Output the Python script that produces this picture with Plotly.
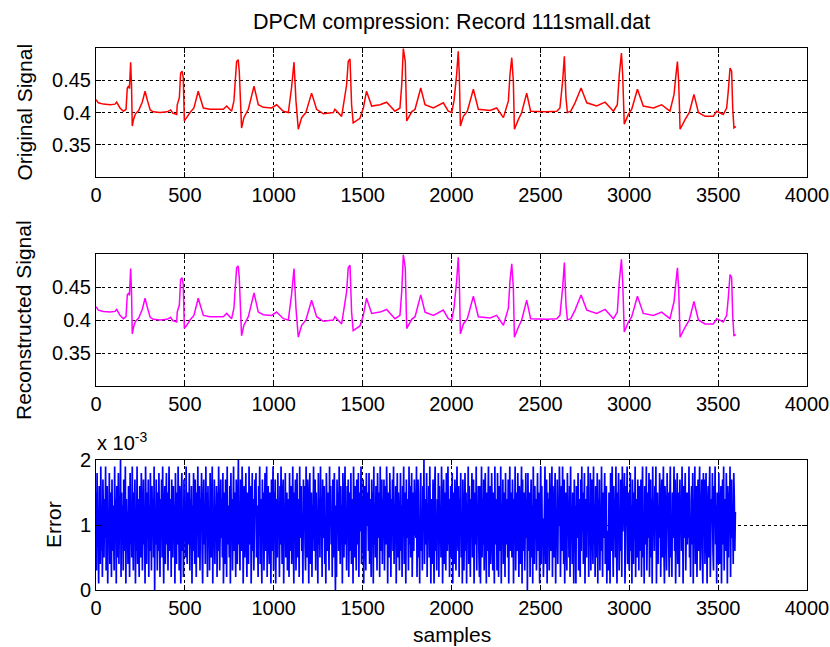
import plotly.graph_objects as go

# ECG record 111 (first 10 s): vertices of the trace, sample index and amplitude
ecg_samples = [
    0, 13, 41, 79, 107, 116, 135, 154, 169, 176, 184, 188, 195, 200, 204, 212, 222, 240,
    260, 276, 290, 305, 322, 360, 400, 420, 432, 454,
    457, 469, 476, 484, 491, 497, 510, 529, 551, 575, 604, 641, 716, 735, 763,
    776, 791, 800, 806, 819, 832, 857, 889, 913, 941, 988, 1016, 1054, 1082,
    1100, 1114, 1125, 1138, 1157, 1181, 1213, 1241, 1279, 1335, 1344, 1382,
    1410, 1419, 1429, 1438, 1447, 1485, 1504, 1522, 1551, 1598, 1635, 1682,
    1710, 1720, 1729, 1740, 1748, 1776, 1795, 1827, 1851, 1898, 1954, 1982, 2001,
    2014, 2029, 2038, 2044, 2050, 2067, 2089, 2123, 2151, 2217, 2254, 2292,
    2320, 2329, 2339, 2348, 2354, 2376, 2395, 2423, 2445, 2535, 2592,
    2610, 2625, 2635, 2644, 2652, 2671, 2695, 2729, 2761, 2817, 2864, 2911,
    2933, 2944, 2956, 2963, 2972, 2995, 3014, 3046, 3079, 3136, 3182, 3229,
    3252, 3263, 3271, 3278, 3286, 3314, 3338, 3364, 3389, 3426, 3473, 3492, 3529,
    3548, 3557, 3567, 3576, 3582, 3589, 3600,
]
ecg_values = [
    0.420, 0.415, 0.413, 0.412, 0.413, 0.416, 0.407, 0.402, 0.405, 0.438, 0.441, 0.437,
    0.478, 0.440, 0.379, 0.390, 0.398, 0.403, 0.416, 0.433, 0.418, 0.404, 0.401, 0.400,
    0.401, 0.404, 0.399, 0.397,
    0.412, 0.423, 0.461, 0.464, 0.454, 0.387, 0.392, 0.400, 0.407, 0.433, 0.407, 0.405,
    0.405, 0.410, 0.402,
    0.418, 0.479, 0.482, 0.464, 0.376, 0.392, 0.405, 0.441, 0.412, 0.408, 0.407, 0.412,
    0.402, 0.400,
    0.438, 0.478, 0.418, 0.374, 0.392, 0.400, 0.430, 0.405, 0.398, 0.400, 0.405, 0.394,
    0.443, 0.479, 0.483, 0.412, 0.384, 0.391, 0.407, 0.433, 0.410, 0.412, 0.416, 0.402,
    0.407, 0.443, 0.499, 0.479, 0.387, 0.401, 0.405, 0.438, 0.412, 0.407, 0.415, 0.402,
    0.400,
    0.418, 0.459, 0.495, 0.459, 0.379, 0.394, 0.402, 0.436, 0.405, 0.403, 0.407, 0.392,
    0.418, 0.459, 0.485, 0.448, 0.374, 0.389, 0.400, 0.430, 0.402, 0.401, 0.402,
    0.407, 0.448, 0.487, 0.423, 0.400, 0.402, 0.415, 0.438, 0.415, 0.410, 0.416, 0.402,
    0.412, 0.459, 0.492, 0.459, 0.382, 0.397, 0.405, 0.436, 0.410, 0.407, 0.412, 0.402,
    0.428, 0.459, 0.479, 0.448, 0.374, 0.389, 0.400, 0.428, 0.400, 0.394, 0.394, 0.402,
    0.397,
    0.407, 0.433, 0.469, 0.464, 0.407, 0.376, 0.378,
]
# DPCM reconstruction of the same record (deviation stays below 2e-3)
recon_values = list(ecg_values)

# Reconstruction error, in units of 1e-4, one value every err_step samples
err_step = 3
error_e4 = [
    15, 3, 18, 7, 12, 1, 16, 9, 4, 19, 6, 13, 2, 17, 10, 5, 14, 8, 19, 3, 11, 16, 1, 12, 7, 18, 4, 15, 9, 2,
    17, 6, 13, 10, 3, 19, 8, 14, 1, 16, 5, 11, 18, 4, 12, 9, 20, 2, 15, 7, 13, 3, 17, 10, 6, 19, 1, 14, 8, 12,
    4, 16, 11, 2, 18, 7, 13, 5, 19, 9, 3, 15, 10, 17, 1, 12, 6, 19, 4, 14, 8, 2, 16, 11, 5, 18, 13, 3, 9, 17,
    7, 12, 1, 19, 10, 4, 15, 8, 17, 2, 13, 6, 18, 11, 3, 16, 9, 14, 5, 19, 0, 12, 7, 17, 10, 3, 15, 6, 18, 9,
    2, 14, 11, 17, 5, 19, 8, 1, 13, 16, 4, 10, 18, 7, 15, 3, 12, 19, 6, 9, 14, 2, 17, 11, 5, 16, 8, 13, 1, 18,
    10, 4, 15, 7, 19, 12, 3, 16, 9, 1, 14, 18, 6, 11, 2, 17, 8, 13, 5, 19, 10, 4, 15, 12, 7, 18, 3, 14, 9, 16,
    1, 13, 6, 18, 11, 4, 17, 9, 2, 15, 12, 19, 5, 8, 16, 3, 14, 10, 18, 6, 1, 13, 17, 7, 11, 4, 19, 9, 15, 2,
    16, 8, 12, 3, 18, 10, 5, 14, 19, 1, 11, 7, 17, 4, 13, 9, 16, 2, 15, 6, 19, 12, 3, 10, 17, 8, 14, 5, 18, 1,
    9, 15, 4, 17, 12, 2, 19, 7, 13, 10, 5, 16, 1, 18, 8, 14, 3, 11, 19, 6, 15, 9, 2, 17, 12, 4, 13, 20, 7, 10,
    3, 17, 11, 6, 19, 14, 1, 9, 16, 5, 12, 18, 8, 2, 15, 10, 4, 19, 13, 7, 16, 1, 11, 18, 6, 14, 3, 9, 17, 12,
    18, 5, 13, 9, 2, 16, 11, 19, 4, 14, 7, 1, 17, 10, 15, 3, 12, 18, 6, 9, 19, 2, 13, 16, 8, 4, 15, 11, 1, 17,
    6, 12, 19, 3, 15, 8, 17, 1, 10, 14, 5, 18, 9, 13, 2, 16, 7, 19, 11, 4, 14, 17, 1, 12, 8, 18, 5, 10, 15, 3,
    14, 9, 2, 18, 6, 13, 16, 4, 11, 19, 7, 1, 15, 12, 17, 3, 9, 18, 5, 14, 10, 2, 19, 8, 13, 16, 6, 11, 1, 17,
    11, 16, 7, 3, 19, 12, 5, 17, 9, 1, 14, 18, 4, 10, 15, 2, 13, 8, 19, 6, 11, 17, 3, 15, 9, 12, 1, 18, 7, 14,
    5, 19, 10, 14, 2, 17, 8, 12, 16, 4, 11, 1, 18, 13, 6, 15, 9, 3, 19, 10, 16, 7, 12, 2, 17, 5, 14, 18, 8, 0,
    13, 2, 17, 9, 15, 6, 19, 11, 4, 16, 8, 13, 1, 18, 10, 5, 14, 19, 7, 12, 3, 16, 9, 17, 2, 11, 15, 6, 18, 4,
    8, 14, 1, 19, 12, 5, 16, 10, 3, 17, 13, 7, 18, 2, 15, 9, 11, 19, 4, 14, 6, 17, 1, 12, 16, 8, 3, 18, 10, 15,
    12, 6, 18, 4, 14, 9, 2, 17, 11, 15, 1, 19, 7, 13, 5, 16, 10, 3, 18, 12, 8, 15, 2, 19, 6, 11, 17, 4, 14, 9,
    17, 3, 11, 16, 7, 19, 13, 1, 15, 9, 5, 18, 12, 2, 14, 10, 17, 6, 19, 4, 13, 8, 16, 1, 11, 18, 5, 15, 9, 3,
    10, 18, 6, 13, 2, 16, 9, 19, 4, 12, 15, 1, 17, 8, 14, 11, 3, 19, 7, 16, 5, 13, 18, 2, 10, 15, 6, 17, 12, 9,
    8, 19, 2, 13, 17, 5, 10, 1, 15, 18, 6, 12, 3, 16, 9, 20, 4, 14, 11, 7, 18, 2, 13, 9, 16, 5, 19, 10, 1, 14,
    12, 4, 17, 8, 1, 15, 19, 6, 11, 3, 14, 9, 18, 2, 16, 7, 12, 5, 19, 13, 1, 10, 17, 4, 15, 8, 3, 18, 11, 6,
    19, 7, 14, 2, 10, 16, 5, 12, 18, 1, 9, 15, 4, 17, 11, 3, 13, 19, 8, 6, 16, 2, 14, 10, 18, 5, 12, 1, 17, 9,
    3, 11, 18, 6, 15, 1, 13, 9, 19, 4, 16, 8, 2, 14, 12, 18, 5, 10, 17, 1, 11, 15, 7, 19, 3, 13, 9, 16, 6, 2,
    16, 1, 10, 19, 5, 14, 7, 17, 3, 12, 18, 9, 1, 15, 6, 13, 19, 2, 11, 16, 4, 8, 18, 12, 3, 15, 10, 1, 19, 7,
    11, 14, 3, 18, 9, 2, 16, 12, 6, 19, 1, 13, 8, 17, 4, 10, 15, 2, 18, 7, 14, 11, 5, 17, 1, 12, 19, 6, 9, 15,
    5, 17, 12, 1, 14, 8, 19, 3, 10, 15, 6, 18, 11, 2, 16, 9, 4, 13, 19, 1, 17, 6, 12, 15, 3, 10, 18, 8, 14, 0,
    18, 9, 6, 15, 2, 12, 17, 5, 13, 1, 19, 10, 4, 16, 8, 14, 3, 11, 18, 6, 15, 9, 1, 13, 19, 4, 16, 7, 11, 2,
    7, 13, 19, 4, 11, 17, 1, 15, 8, 14, 3, 18, 12, 6, 10, 19, 2, 16, 9, 5, 13, 18, 1, 11, 7, 17, 4, 14, 10, 19,
    14, 2, 9, 16, 6, 19, 11, 4, 17, 1, 12, 15, 7, 3, 18, 10, 13, 5, 16, 2, 19, 8, 12, 4, 15, 11, 1, 17, 6, 13,
    1, 16, 13, 8, 18, 3, 14, 10, 2, 17, 6, 19, 9, 15, 4, 12, 18, 1, 11, 14, 5, 16, 9, 19, 2, 13, 7, 18, 3, 12,
    17, 10, 4, 19, 7, 13, 2, 16, 11, 5, 18, 1, 14, 9, 17, 3, 12, 6, 19, 10, 2, 15, 8, 13, 18, 4, 11, 16, 1, 9,
    9, 3, 15, 11, 1, 18, 6, 13, 19, 8, 2, 16, 10, 14, 5, 19, 7, 1, 15, 12, 18, 3, 10, 6, 17, 13, 2, 19, 9, 14,
    13, 18, 1, 7, 16, 10, 19, 4, 12, 15, 3, 9, 18, 6, 13, 1, 17, 11, 4, 15, 8, 19, 2, 14, 10, 5, 17, 12, 3, 16,
    6, 12, 17, 2, 14, 19, 5, 11, 1, 16, 13, 7, 19, 3, 10, 15, 8, 18, 2, 12, 17, 5, 14, 1, 19, 9, 13, 6, 16, 11,
    19, 1, 11, 15, 4, 13, 8, 18, 14, 2, 10, 17, 5, 12, 19, 6, 1, 16, 13, 9, 3, 18, 11, 15, 7, 2, 14, 19, 5, 10,
    2, 15, 8, 12, 19, 6, 17, 1, 9, 13, 18, 4, 15, 11, 2, 17, 10, 14, 6, 19, 12, 1, 16, 8, 13, 18, 3, 10, 15, 7,
    15, 8, 19, 5, 10, 2, 14, 16, 7, 18, 1, 12, 9, 19, 4, 13, 16, 2, 11, 17, 6, 14, 19, 3, 9, 12, 17, 5, 1, 18,
    10, 17, 4, 13, 18, 9, 1, 12, 16, 5, 15, 19, 2, 8, 14, 11, 18, 6, 3, 16, 10, 19, 7, 13, 1, 15, 12, 4, 18, 8,
    4, 13, 16, 1, 11, 17, 7, 19, 3, 14, 9, 6, 18, 12, 1, 16, 5, 15, 10, 19, 2, 13, 17, 8, 11, 4, 18, 14, 6, 12,
]

x_ticks = [0, 500, 1000, 1500, 2000, 2500, 3000, 3500, 4000]
sig_ticks = [0.35, 0.4, 0.45]
sig_ticklabels = ["0.35", "0.4", "0.45"]
err_ticks = [0, 0.001, 0.002]
err_ticklabels = ["0", "1", "2"]

W, H = 830, 647
FONT = "Liberation Sans, Arial, Helvetica, sans-serif"

err_x = [i * err_step for i in range(len(error_e4))]
err_y = [v * 1e-4 for v in error_e4]


def ydom(top, bottom):
    return [1 - bottom / H, 1 - top / H]


x_dom = [96 / W, 807 / W]
panels = [(48, 177), (254, 386), (460, 590)]

fig = go.Figure()
fig.add_trace(go.Scatter(x=ecg_samples, y=ecg_values, mode="lines",
                         line=dict(color="#ff0000", width=1.5, simplify=False),
                         xaxis="x", yaxis="y"))
fig.add_trace(go.Scatter(x=ecg_samples, y=recon_values, mode="lines",
                         line=dict(color="#ff00ff", width=1.5, simplify=False),
                         xaxis="x2", yaxis="y2"))
fig.add_trace(go.Scatter(x=err_x, y=err_y, mode="lines",
                         line=dict(color="#0000ff", width=1.7, simplify=False),
                         xaxis="x3", yaxis="y3"))

axis_common = dict(
    showline=True, linecolor="#000", linewidth=1, mirror="ticks",
    ticks="inside", ticklen=5, tickcolor="#000",
    showgrid=True, gridcolor="#000", gridwidth=1, griddash="3px,3px",
    zeroline=False, tickfont=dict(family=FONT, size=20, color="#000"),
    fixedrange=True, automargin=False,
)

layout = dict(
    width=W, height=H, margin=dict(l=0, r=0, t=0, b=0, pad=0, autoexpand=False),
    paper_bgcolor="white", plot_bgcolor="white", showlegend=False,
    font=dict(family=FONT, size=20, color="#000"),
)
for i, (top, bottom) in enumerate(panels, start=1):
    sfx = "" if i == 1 else str(i)
    layout["xaxis" + sfx] = dict(axis_common, domain=x_dom, range=[0, 4000],
                                 tickvals=x_ticks, anchor="y" + sfx)
    if i < 3:
        layout["yaxis" + sfx] = dict(axis_common, domain=ydom(top, bottom), range=[0.3, 0.5],
                                     tickvals=sig_ticks, ticktext=sig_ticklabels,
                                     anchor="x" + sfx)
    else:
        layout["yaxis" + sfx] = dict(axis_common, domain=ydom(top, bottom), range=[0, 0.002],
                                     tickvals=err_ticks, ticktext=err_ticklabels,
                                     anchor="x" + sfx)
fig.update_layout(**layout)

lab_font = dict(family=FONT, size=21, color="#000")
ann = [
    dict(text="DPCM compression: Record 111small.dat", x=451.5 / W, y=1 - 22 / H,
         font=dict(family=FONT, size=21.5, color="#000")),
    dict(text="Original Signal", x=24 / W, y=1 - 112.5 / H, textangle=-90, font=lab_font),
    dict(text="Reconstructed Signal", x=24 / W, y=1 - 320 / H, textangle=-90, font=lab_font),
    dict(text="Error", x=53 / W, y=1 - 525 / H, textangle=-90, font=lab_font),
    dict(text="samples", x=451.5 / W, y=1 - 634 / H, font=lab_font),
]
for a in ann:
    fig.add_annotation(xref="paper", yref="paper", showarrow=False,
                       xanchor="center", yanchor="middle", **a)
fig.add_annotation(text="x 10<sup>-3</sup>", xref="paper", yref="paper", showarrow=False,
                   x=95 / W, y=1 - 442 / H, xanchor="left", yanchor="middle",
                   font=dict(family=FONT, size=20, color="#000"))

fig.write_html("out.html")
